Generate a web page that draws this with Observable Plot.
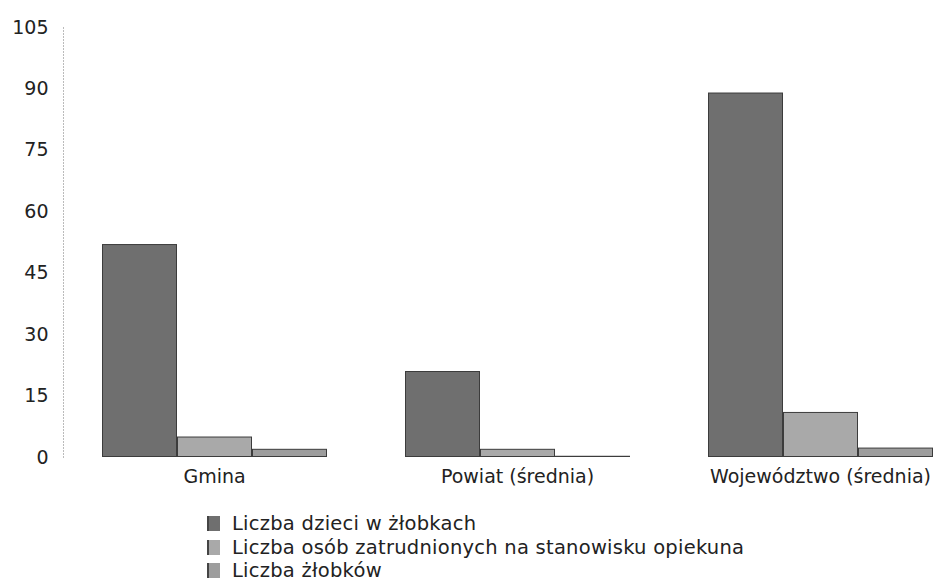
<!DOCTYPE html>
<html><head><meta charset="utf-8">
<script src="https://cdn.jsdelivr.net/npm/d3@7"></script>
<script src="https://cdn.jsdelivr.net/npm/@observablehq/plot@0.6"></script>
<style>
body{margin:0;background:#fff;font-family:"DejaVu Sans",sans-serif;}
#legend{margin-left:207px;margin-top:12px;font-size:19.5px;color:#222;}
#legend .row{display:flex;align-items:center;height:23.5px;}
#legend .sw{width:13px;height:15px;margin-right:12px;border-left:2px solid #444;box-sizing:border-box;flex:none;}
#legend .lbl{white-space:nowrap;line-height:21px;letter-spacing:0.25px;}
</style></head><body>
<div id="chart"></div>
<div id="legend"></div>
<script>
const categories = ["Gmina", "Powiat (średnia)", "Województwo (średnia)"];
const series = ["Liczba dzieci w żłobkach", "Liczba osób zatrudnionych na stanowisku opiekuna", "Liczba żłobków"];
const dzieci = [52, 21, 89];
const opiekunowie = [5, 2, 11];
const zlobki = [2, 0.3, 2.3];
const yTicks = [0, 15, 30, 45, 60, 75, 90, 105];
const colors = ["#6f6f6f", "#a9a9a9", "#9d9d9d"];

const values = [dzieci, opiekunowie, zlobki];
const data = categories.flatMap((c, i) => series.map((s, j) => ({category: c, series: s, value: values[j][i]})));

const chart = Plot.plot({
  width: 933, height: 500,
  marginLeft: 63, marginRight: 0, marginTop: 27, marginBottom: 43,
  style: {fontFamily: "DejaVu Sans", fontSize: "19px", color: "#222", background: "#fff"},
  fx: {domain: categories, paddingInner: 0.254, paddingOuter: 0.06, align: 1, label: null, axis: null},
  x: {domain: series, padding: 0, axis: null},
  y: {domain: [0, 105], ticks: yTicks, label: null},
  color: {domain: series, range: colors},
  marks: [
    Plot.barY(data, {fx: "category", x: "series", y: "value", fill: "series", stroke: "#3c3c3c", strokeWidth: 1, inset: 0.5}),
    Plot.frame({anchor: "left", facetAnchor: "left", dx: -38, stroke: "#bbb", strokeDasharray: "1 2"}),
    Plot.axisY({ticks: yTicks, tickSize: 0, tickPadding: 15, dx: -38, label: null}),
    Plot.axisFx({anchor: "bottom", tickSize: 0, tickPadding: 12, label: null})
  ]
});
document.getElementById("chart").appendChild(chart);

const legend = d3.select("#legend");
series.forEach((s, i) => {
  const row = legend.append("div").attr("class", "row");
  row.append("div").attr("class", "sw").style("background", colors[i]);
  row.append("span").attr("class", "lbl").text(s);
});
</script>
</body></html>
